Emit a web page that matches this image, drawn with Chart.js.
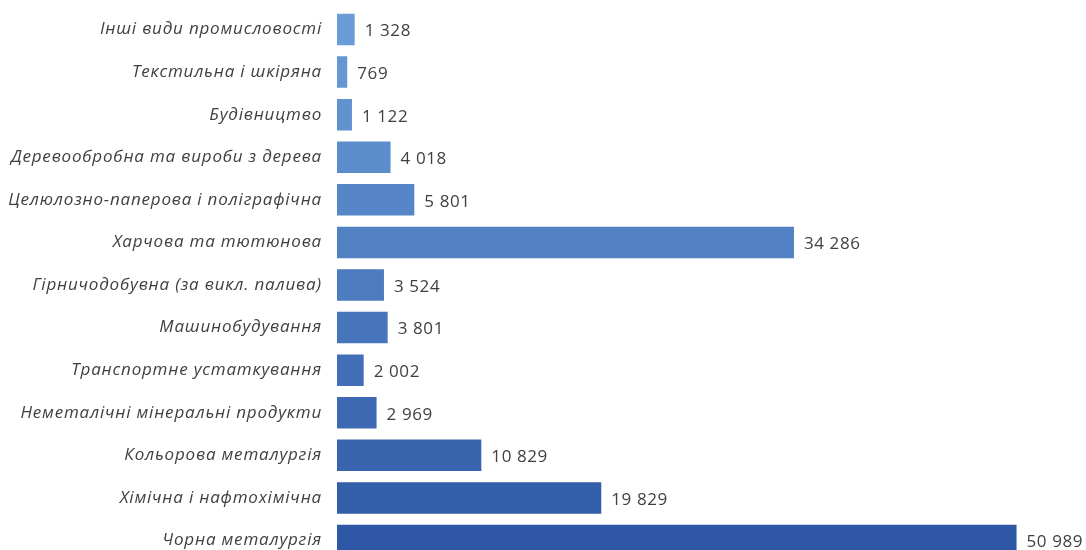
<!DOCTYPE html>
<html lang="uk">
<head>
  <meta charset="UTF-8">
  <title>Промисловість</title>
  <script src="https://cdn.jsdelivr.net/npm/chart.js"></script>
  <style>
    html, body { margin: 0; padding: 0; background: #fff; overflow: hidden; }
    canvas { display: block; margin-top: -9px; }
  </style>
</head>
<body>
  <canvas id="myChart" width="1086" height="588"></canvas>

  <script>
    const categories = [
      'Інші види промисловості',
      'Текстильна і шкіряна',
      'Будівництво',
      'Деревообробна та вироби з дерева',
      'Целюлозно-паперова і поліграфічна',
      'Харчова та тютюнова',
      'Гірничодобувна (за викл. палива)',
      'Машинобудування',
      'Транспортне устаткування',
      'Неметалічні мінеральні продукти',
      'Кольорова металургія',
      'Хімічна і нафтохімічна',
      'Чорна металургія'
    ];
    const values = [1328, 769, 1122, 4018, 5801, 34286, 3524, 3801, 2002, 2969, 10829, 19829, 50989];

    // light blue at the top to dark blue at the bottom
    const topColor = [106, 157, 216];
    const bottomColor = [46, 88, 166];
    const barColors = values.map((v, i) => {
      const t = i / (values.length - 1);
      const c = topColor.map((a, k) => Math.round(a + (bottomColor[k] - a) * t));
      return `rgb(${c[0]}, ${c[1]}, ${c[2]})`;
    });

    const fmt = n => String(n).replace(/\B(?=(\d{3})+(?!\d))/g, ' ');

    // wider letter spacing, like the original
    const spacing = {
      id: 'spacing',
      beforeDraw(chart) { chart.ctx.letterSpacing = '0.8px'; }
    };

    // value labels to the right of each bar
    const valueLabels = {
      id: 'valueLabels',
      afterDatasetsDraw(chart) {
        const ctx = chart.ctx;
        const meta = chart.getDatasetMeta(0);
        ctx.save();
        ctx.letterSpacing = '0.6px';
        ctx.font = '17px "Open Sans"';
        ctx.fillStyle = '#404040';
        ctx.textAlign = 'left';
        ctx.textBaseline = 'middle';
        meta.data.forEach((bar, i) => {
          ctx.fillText(fmt(values[i]), bar.x + 10, bar.y + 2);
        });
        ctx.restore();
      }
    };

    const ctx = document.getElementById('myChart').getContext('2d');
    new Chart(ctx, {
      type: 'bar',
      data: {
        labels: categories,
        datasets: [{
          data: values,
          backgroundColor: barColors,
          borderWidth: 0,
          barPercentage: 0.82,
          categoryPercentage: 0.9
        }]
      },
      options: {
        indexAxis: 'y',
        responsive: false,
        animation: false,
        layout: { padding: 0 },
        plugins: {
          legend: { display: false },
          tooltip: { enabled: false }
        },
        scales: {
          x: {
            display: false,
            min: 0,
            max: 56200
          },
          y: {
            grid: { display: false },
            border: { display: false },
            ticks: {
              color: '#404040',
              padding: 7,
              font: { family: '"Open Sans"', size: 17, style: 'italic' }
            },
            afterFit(scale) { scale.width = 337; }
          }
        }
      },
      plugins: [spacing, valueLabels]
    });
  </script>
</body>
</html>
